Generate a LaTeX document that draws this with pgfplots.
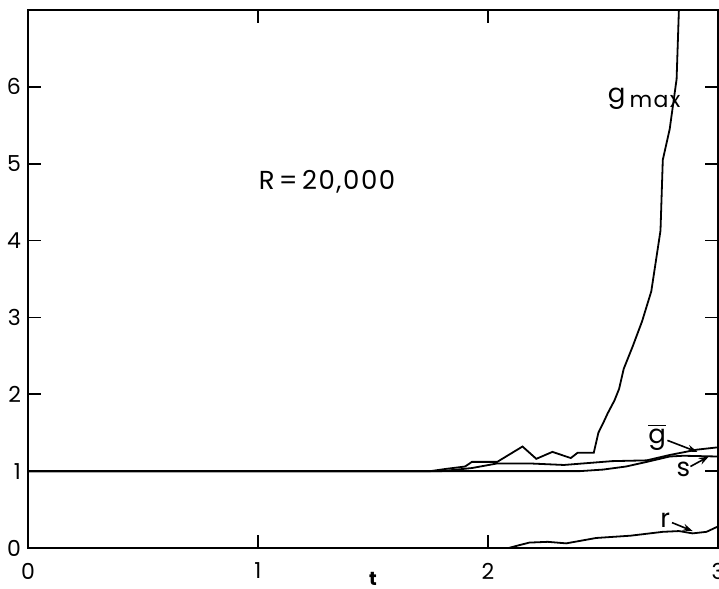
\documentclass[border=0pt]{standalone}
\usepackage{pgfplots}
\pgfplotsset{compat=1.18}
\usepackage{fontspec}
\setmainfont{Poppins}
\usetikzlibrary{arrows.meta,calc}
\begin{document}
\begin{tikzpicture}
\begin{axis}[
  scale only axis, width=345pt, height=269pt,
  xmin=0, xmax=3, ymin=0, ymax=7,
  xtick={0,1,2,3}, ytick={0,1,2,3,4,5,6},
  tick align=inside, major tick length=6.5pt,
  tick style={line width=0.9pt, black},
  axis line style={line width=1.4pt},
  tick label style={font=\fontsize{11}{12}\selectfont},
  /pgf/number format/assume math mode=true,
  xticklabel style={yshift=-4pt},
  xlabel={\bfseries t}, xlabel style={font=\fontsize{9.5}{10}\selectfont, at={(axis description cs:0.5,0)}, anchor=north, inner sep=0pt, yshift=-12pt},
  clip=false,
]
\addplot[black, line width=0.9pt] coordinates {
(0,1) (1.75,1) (1.82,1.03) (1.90,1.06) (1.93,1.12) (2.04,1.12) (2.15,1.32) (2.21,1.16) (2.28,1.25) (2.36,1.17) (2.39,1.24) (2.46,1.24) (2.48,1.5) (2.50,1.62) (2.52,1.75) (2.55,1.92) (2.57,2.07) (2.59,2.33) (2.63,2.63) (2.67,2.95) (2.71,3.34) (2.75,4.13) (2.76,5.05) (2.79,5.45) (2.82,6.1) (2.83,7.0)
};
\addplot[black, line width=0.9pt] coordinates {
(0,1) (1.8,1) (1.93,1.04) (2.04,1.1) (2.18,1.1) (2.33,1.08) (2.54,1.13) (2.69,1.14) (2.79,1.21) (2.91,1.28) (3.0,1.31)
};
\addplot[black, line width=0.9pt] coordinates {
(0,1) (2.4,1) (2.5,1.02) (2.6,1.06) (2.69,1.12) (2.79,1.19) (2.85,1.2) (3.0,1.19)
};
\addplot[black, line width=0.9pt] coordinates {
(2.09,0) (2.14,0.04) (2.18,0.07) (2.26,0.08) (2.34,0.06) (2.47,0.13) (2.62,0.16) (2.76,0.21) (2.83,0.22) (2.89,0.19) (2.95,0.21) (3.0,0.28)
};
\node[font=\fontsize{13}{14}\selectfont] at (axis cs:1.3,4.77) {\addfontfeatures{LetterSpace=6}R\,=\,20,000};
\node[font=\fontsize{13}{14}\selectfont, anchor=base west] at (axis cs:2.49,5.8) {g\,\raisebox{-0.35ex}{\fontsize{11}{12}\selectfont\addfontfeatures{LetterSpace=6}max}};
\node[font=\fontsize{13}{14}\selectfont] at (axis cs:2.735,1.44) {$\overline{\hbox{g}}$};
\node[font=\fontsize{13}{14}\selectfont] at (axis cs:2.85,1.02) {s};
\node[font=\fontsize{13}{14}\selectfont] at (axis cs:2.77,0.36) {r};
\draw[-{Stealth[length=5pt,width=3.5pt]}, line width=0.8pt] (axis cs:2.78,1.40) -- (axis cs:2.91,1.25);
\draw[-{Stealth[length=5pt,width=3.5pt]}, line width=0.8pt] (axis cs:2.88,1.06) -- (axis cs:2.96,1.19);
\draw[-{Stealth[length=5pt,width=3.5pt]}, line width=0.8pt] (axis cs:2.80,0.33) -- (axis cs:2.89,0.22);
\end{axis}
\pgfresetboundingbox
\useasboundingbox ($(current axis.south west)+(-14pt,-20.5pt)$) rectangle ($(current axis.north east)+(0.5pt,5pt)$);
\end{tikzpicture}
\end{document}
